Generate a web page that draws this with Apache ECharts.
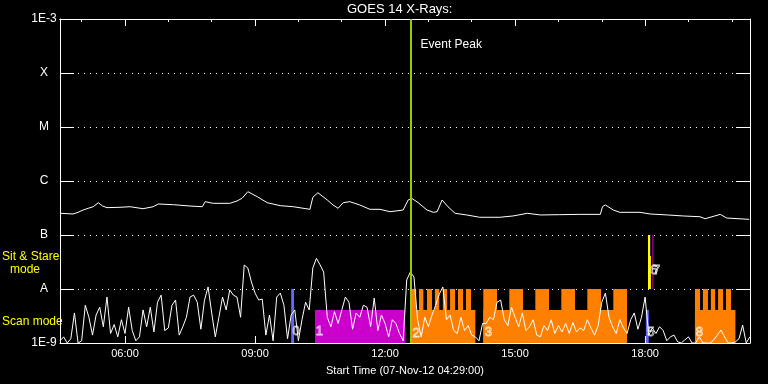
<!DOCTYPE html>
<html>
<head>
<meta charset="utf-8">
<script src="https://cdn.jsdelivr.net/npm/echarts@6/dist/echarts.min.js"></script>
<style>
html,body{margin:0;padding:0;background:#000;}
#chart{width:768px;height:384px;}
</style>
</head>
<body>
<div id="chart"></div>
<script>
// ---------------- DATA ----------------
const startTimeLabel = 'Start Time (07-Nov-12 04:29:00)';
const xTickHours = [6, 9, 12, 15, 18];
const xMinorHours = [5, 7, 8, 10, 11, 13, 14, 16, 17, 19, 20];
const yClassLabels = { '-9': '1E-9', '-8': 'A', '-7': 'B', '-6': 'C', '-5': 'M', '-4': 'X', '-3': '1E-3' };
const eventPeak = '12:36';

// GOES 14 long channel (W/m^2)
const goesTimes = ['04:31','04:48','04:55','05:02','05:09','05:16','05:23','05:29','05:35','05:53',
  '06:07','06:25','06:39','06:46','07:07','07:30','07:47','07:51','08:02','08:25',
  '08:35','08:42','08:50','09:03','09:17','09:35','09:53','10:16','10:20','10:27',
  '10:40','10:48','10:55','11:02','11:11','11:25','11:39','11:53','12:07','12:25',
  '12:32','12:37','12:46','12:58','13:07','13:12','13:19','13:27','13:37','13:53',
  '14:11','14:39','14:57','15:17','15:35','16:02','16:30','16:58','17:01','17:05',
  '17:16','17:25','17:53','18:07','18:31','18:53','19:16','19:23','19:44','19:53','20:24'];
const goesFlux = [2.52e-7,2.45e-7,2.63e-7,2.90e-7,3.12e-7,3.34e-7,3.96e-7,3.44e-7,3.21e-7,3.26e-7,
  3.34e-7,3.07e-7,3.34e-7,3.75e-7,3.64e-7,3.44e-7,3.34e-7,4.14e-7,3.86e-7,3.86e-7,
  4.26e-7,4.78e-7,6.34e-7,5.12e-7,3.96e-7,3.49e-7,3.34e-7,2.99e-7,4.99e-7,6.07e-7,
  4.45e-7,3.60e-7,3.12e-7,3.96e-7,4.14e-7,3.60e-7,2.99e-7,2.99e-7,2.70e-7,2.90e-7,
  4.45e-7,4.78e-7,3.96e-7,2.90e-7,2.63e-7,2.70e-7,4.45e-7,3.34e-7,2.52e-7,2.35e-7,
  2.13e-7,2.13e-7,2.25e-7,2.52e-7,2.35e-7,2.38e-7,2.41e-7,2.41e-7,3.34e-7,3.60e-7,
  2.90e-7,2.63e-7,2.63e-7,2.45e-7,2.35e-7,2.25e-7,2.18e-7,2.00e-7,2.41e-7,2.06e-7,1.95e-7];

// Low-level trace, 5-minute cadence from 04:30 (units of 1E-9 W/m^2)
const lowStart = '04:30';
const lowStepMin = 5;
const lowFlux_nW = [
  1.1,1.3,1.0,1.2,3.6,1.0,1.1,5.0,3.0,1.4,
  3.3,4.6,2.0,7.1,1.5,2.2,1.3,2.7,1.5,4.6,
  1.7,1.1,1.3,4.1,2.0,4.6,1.6,5.7,7.7,1.7,
  1.9,5.0,6.25,1.4,2.0,3.0,7.1,7.7,5.7,1.8,
  6.2,10.9,3.6,1.3,3.0,7.1,4.1,9.6,7.7,7.1,
  3.0,27.8,24.5,13.5,8.4,6.25,6.5,1.4,3.3,1.1,
  7.1,8.4,5.0,1.2,3.3,4.1,1.1,2.7,5.7,4.1,
  24.5,37,28,20.6,3.0,2.0,3.8,2.3,4.0,7.1,
  5.7,1.8,3.6,3.0,5.0,4.6,2.0,6.8,1.7,3.3,
  2.3,1.3,2.7,2.3,1.5,1.1,14.7,20.6,16.7,2.7,
  1.3,3.0,2.0,3.3,5.0,8.0,10.9,2.7,3.3,1.7,
  1.5,3.0,1.7,2.1,1.4,1.3,1.1,2.3,2.3,3.0,
  2.7,5.7,6.25,2.7,2.1,4.6,3.0,2.0,3.6,1.7,
  2.0,2.7,1.4,1.3,2.1,1.7,2.7,1.5,2.1,1.6,
  2.3,1.5,2.4,1.6,1.9,1.7,2.7,1.9,1.4,2.1,
  5.7,8.4,3.0,2.0,1.5,2.7,1.9,1.5,2.7,3.6,
  1.8,3.0,7.1,1.4,1.9,1.5,2.0,1.7,1.1,1.3,
  1.4,1.05,1.0,1.14,1.3,1.0,1.0,1.3,1.0,1.0,
  1.0,1.14,1.4,1.74,1.3,1.0,1.0,1.05,1.2,2.15,
  1.0,1.3];

// Observation blocks: [start, end, top level]
const scanBase = 1e-9;
const sitStareBase = 1e-8;
const orangeScan = [
  ['12:37','14:05',4.1e-9], ['14:16','17:35',4.1e-9], ['19:09','20:05',4.1e-9],
  ['12:37','12:43',1e-8], ['12:47','12:53',1e-8], ['12:58','13:05',1e-8], ['13:09','13:15',1e-8],
  ['13:20','13:26',1e-8], ['13:30','13:37',1e-8], ['13:41','13:48',1e-8], ['13:52','13:59',1e-8],
  ['14:16','14:35',1e-8], ['14:52','15:11',1e-8], ['15:28','15:47',1e-8], ['16:04','16:23',1e-8],
  ['16:40','16:59',1e-8], ['17:16','17:35',1e-8],
  ['19:09','19:16',1e-8], ['19:20','19:27',1e-8], ['19:31','19:37',1e-8], ['19:41','19:48',1e-8], ['19:52','19:59',1e-8]
];
const magentaScan = [['10:23','12:28',4.1e-9]];
const blueScan = [['09:50','09:54',1e-8], ['18:01','18:05',4.1e-9]];
const yellowSitStare = [['18:04','18:07',1e-7], ['18:04','18:08',4.1e-8]];
const magentaSitStare = [['18:10','18:11',1e-7]];

// Observation numbers: [time, flux, label]
const obsNumbers = [
  ['09:57',1.67e-9,'0'], ['10:29',1.67e-9,'1'], ['12:43',1.5e-9,'2'], ['14:23',1.55e-9,'3'],
  ['18:08',1.55e-9,'5'], ['18:12',2.2e-8,'6'], ['18:16',2.2e-8,'7'], ['19:15',1.55e-9,'8']
];

// ---------------- CHART ----------------
const FONT = 'Liberation Sans, Arial, sans-serif';
const toH = s => { const p = s.split(':').map(Number); return p[0] + p[1] / 60; };
const X_MIN = 4.5, X_MAX = 20.42;

function blockSeries(name, blocks, base, color, z) {
  return {
    name, type: 'custom', z,
    data: blocks.map(b => [toH(b[0]), toH(b[1]), b[2], base]),
    renderItem: (params, api) => {
      const p0 = api.coord([api.value(0), api.value(3)]);
      const p1 = api.coord([api.value(1), api.value(2)]);
      return { type: 'rect', shape: { x: p0[0], y: p1[1], width: Math.max(1, p1[0] - p0[0]), height: p0[1] - p1[1] },
               style: { fill: color } };
    },
    silent: true
  };
}

const chart = echarts.init(document.getElementById('chart'), null, { renderer: 'canvas' });
const white = '#ffffff';
const pad2 = n => (n < 10 ? '0' : '') + n;

const option = {
  backgroundColor: '#000000',
  animation: false,
  title: { text: 'GOES 14 X-Rays:', left: 347, top: 3, padding: 0,
    textStyle: { color: white, fontSize: 13, fontWeight: 'normal', fontFamily: FONT } },
  grid: { left: 60, right: 18, top: 19, bottom: 41 },
  xAxis: [
    { type: 'value', min: X_MIN, max: X_MAX, position: 'bottom',
      name: startTimeLabel, nameLocation: 'middle', nameGap: 22,
      nameTextStyle: { color: white, fontSize: 11, fontFamily: FONT },
      axisLine: { lineStyle: { color: white, width: 1 } },
      axisTick: { inside: true, length: 7, customValues: xTickHours, lineStyle: { color: white } },
      axisLabel: { customValues: xTickHours, color: white, fontSize: 11, fontFamily: FONT, margin: 5,
        formatter: v => pad2(Math.round(v)) + ':00' },
      splitLine: { show: false } },
    { type: 'value', min: X_MIN, max: X_MAX, position: 'top',
      axisLine: { lineStyle: { color: white, width: 1 } },
      axisTick: { inside: true, length: 7, customValues: xTickHours, lineStyle: { color: white } },
      axisLabel: { show: false }, splitLine: { show: false } },
    { type: 'value', min: X_MIN, max: X_MAX, position: 'top',
      axisLine: { lineStyle: { color: white, width: 1 } },
      axisTick: { inside: true, length: 3, customValues: xMinorHours, lineStyle: { color: white } },
      axisLabel: { show: false }, splitLine: { show: false } }
  ],
  yAxis: [
    { type: 'log', logBase: 10, min: 1e-9, max: 1e-3, splitNumber: 6, position: 'left',
      axisLine: { show: true, lineStyle: { color: white, width: 1 } },
      axisTick: { show: true, inside: true, length: 14, lineStyle: { color: white } },
      minorTick: { show: false },
      axisLabel: { color: white, fontSize: 12, fontFamily: FONT, align: 'center', margin: 16,
        verticalAlignMaxLabel: 'top',
        formatter: v => yClassLabels[String(Math.round(Math.log10(v)))] || '' },
      splitLine: { show: true, lineStyle: { color: white, type: [1, 5], width: 1 } } },
    { type: 'log', logBase: 10, min: 1e-9, max: 1e-3, splitNumber: 6, position: 'right',
      axisLine: { show: true, lineStyle: { color: white, width: 1 } },
      axisTick: { show: true, inside: true, length: 14, lineStyle: { color: white } },
      minorTick: { show: false },
      axisLabel: { show: false }, splitLine: { show: false } }
  ],
  graphic: [
    { type: 'text', left: 2, top: 251, style: { text: 'Sit & Stare', fill: '#ffff00', font: '12px ' + FONT } },
    { type: 'text', left: 10, top: 264, style: { text: 'mode', fill: '#ffff00', font: '12px ' + FONT } },
    { type: 'text', left: 2, top: 316, style: { text: 'Scan mode', fill: '#ffff00', font: '12px ' + FONT } }
  ],
  series: [
    blockSeries('magentaScan', magentaScan, scanBase, '#cc00cc', 1),
    blockSeries('orangeScan', orangeScan, scanBase, '#ff8000', 1),
    blockSeries('blueScan', blueScan, scanBase, '#6464ff', 1),
    blockSeries('yellowSitStare', yellowSitStare, sitStareBase, '#ffff00', 1),
    blockSeries('magentaSitStare', magentaSitStare, sitStareBase, '#cc00cc', 1),
    { name: 'low', type: 'line', z: 3, symbol: 'none', silent: true,
      lineStyle: { color: white, width: 1 },
      data: lowFlux_nW.map((v, i) => [toH(lowStart) + i * lowStepMin / 60, v * 1e-9]) },
    { name: 'goes', type: 'line', z: 3, symbol: 'none', silent: true,
      lineStyle: { color: white, width: 1 },
      data: goesTimes.map((t, i) => [toH(t), goesFlux[i]]),
      markLine: { silent: true, symbol: 'none', label: { show: false },
        lineStyle: { color: '#99cc00', width: 2, type: 'solid' },
        data: [{ xAxis: toH(eventPeak) }] },
      markPoint: { silent: true, symbol: 'circle', symbolSize: 1, itemStyle: { color: 'rgba(0,0,0,0)' },
        label: { show: true, position: 'right', distance: 9, formatter: 'Event Peak', color: white, fontSize: 12, fontFamily: FONT },
        data: [{ coord: [toH(eventPeak), 3.4e-4] }] } },
    { name: 'numbers', type: 'scatter', z: 5, symbolSize: 1, silent: true,
      itemStyle: { color: 'rgba(0,0,0,0)' },
      label: { show: true, position: 'inside', formatter: p => p.data[2],
        color: 'rgba(0,0,0,0)', textBorderColor: white, textBorderWidth: 0.8, fontSize: 13, fontFamily: FONT },
      data: obsNumbers.map(o => [toH(o[0]), o[1], o[2]]) }
  ]
};
chart.setOption(option);
</script>
</body>
</html>
